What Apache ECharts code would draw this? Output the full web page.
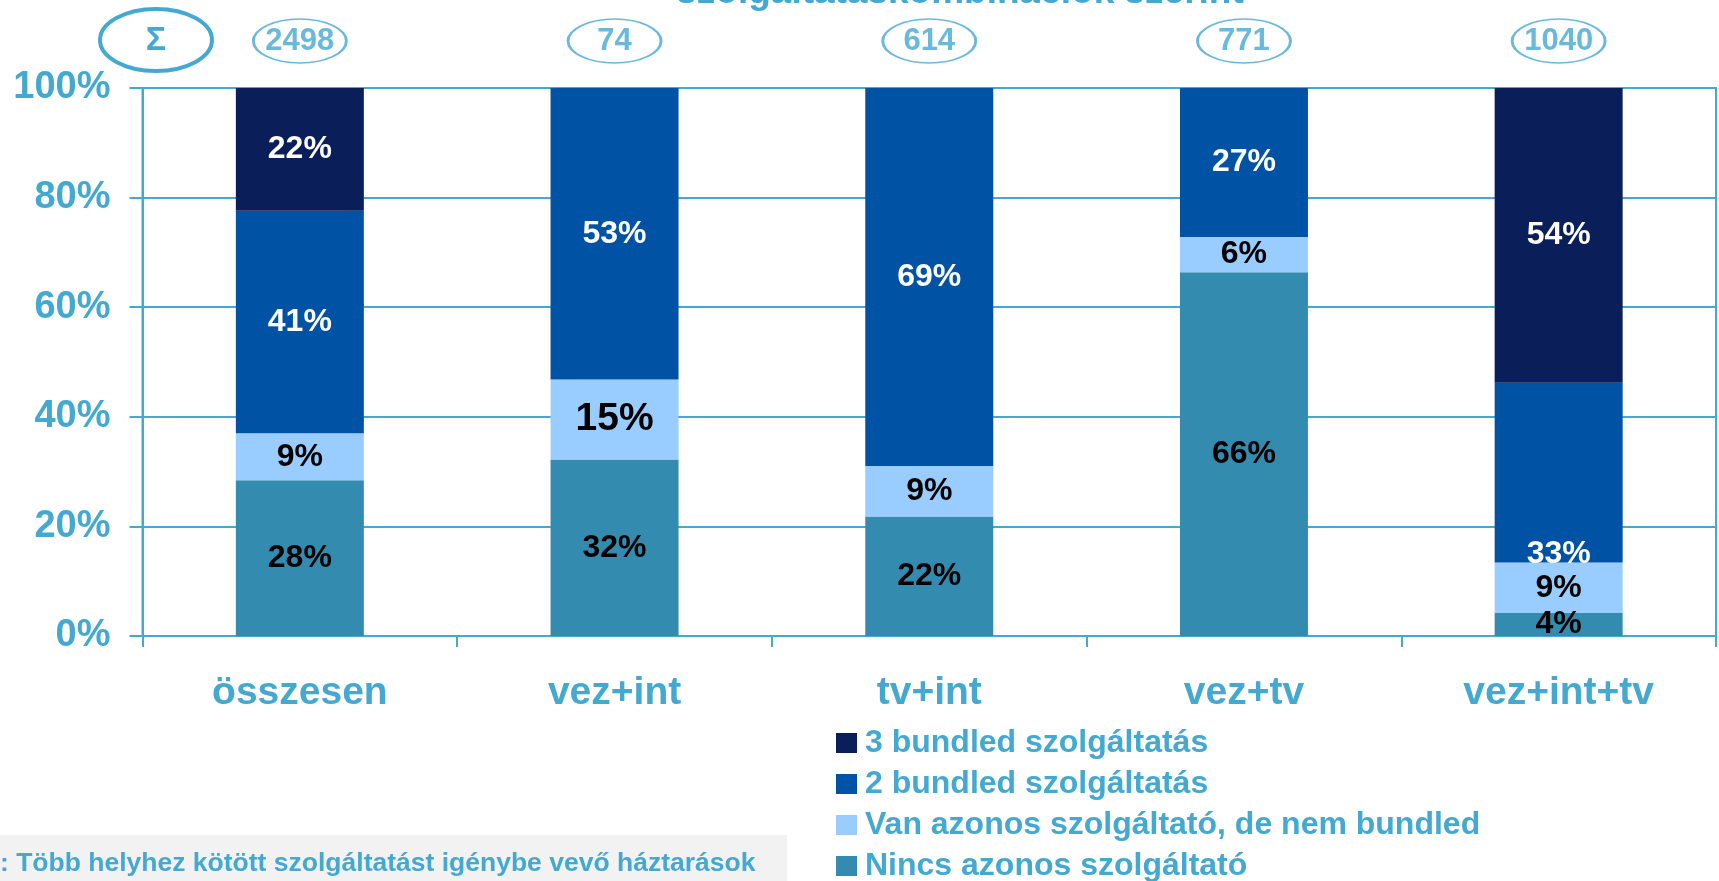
<!DOCTYPE html>
<html>
<head>
<meta charset="utf-8">
<script src="https://cdn.jsdelivr.net/npm/echarts@6/dist/echarts.min.js"></script>
<style>
  html, body { margin: 0; padding: 0; background: #fff; }
  #chart { width: 1719px; height: 881px; }
</style>
</head>
<body>
<div id="chart"></div>
<script>
// kategóriák és adatok
const categories = ["összesen", "vez+int", "tv+int", "vez+tv", "vez+int+tv"];
const totals = [2498, 74, 614, 771, 1040];
const nincs = [28.4, 32.2, 21.8, 66.4, 4.2];
const van = [8.6, 14.6, 9.2, 6.4, 9.2];
const bundled2 = [40.6, 53.2, 69.0, 27.2, 32.8];
const bundled3 = [22.4, 0, 0, 0, 53.8];
const yTicks = [0, 20, 40, 60, 80, 100];

const teal = "#43A9D1";
const font = "Liberation Sans";

let myChart = echarts.init(document.getElementById("chart"));

function pct(p) {
  return p.value > 0 ? Math.round(p.value) + "%" : "";
}

function labelCfg(color) {
  return {
    show: true,
    position: "inside",
    color: color,
    fontFamily: font,
    fontWeight: "bold",
    fontSize: 32,
    formatter: pct,
  };
}

let option = {
  animation: false,
  textStyle: { fontFamily: font },
  grid: [
    { left: 142.5, right: 3, top: 88, bottom: 245, show: true, borderColor: teal, borderWidth: 2 },
    { left: 142.5, right: 3, top: 14, height: 54 },
  ],
  legend: {
    orient: "vertical",
    left: 831,
    top: 722,
    height: 200,
    icon: "rect",
    itemWidth: 21,
    itemHeight: 20,
    itemGap: 9,
    data: ["3 bundled szolgáltatás", "2 bundled szolgáltatás", "Van azonos szolgáltató, de nem bundled", "Nincs azonos szolgáltató"],
    textStyle: { color: teal, fontSize: 32, fontWeight: "bold", fontFamily: font, lineHeight: 30, padding: [0, 0, 0, 3] },
  },
  xAxis: [
    {
      type: "category",
      data: categories,
      axisLine: { lineStyle: { color: teal, width: 2 } },
      axisTick: { show: true, length: 11, lineStyle: { color: teal, width: 2 } },
      axisLabel: { color: teal, fontSize: 39, fontWeight: "bold", fontFamily: font, margin: 38 },
    },
    { type: "category", gridIndex: 1, data: categories, show: false },
  ],
  yAxis: [
    {
      type: "value",
      min: yTicks[0],
      max: yTicks[yTicks.length - 1],
      interval: 20,
      axisLine: { show: true, lineStyle: { color: teal, width: 2 } },
      axisTick: { show: true, length: 13, lineStyle: { color: teal, width: 2 } },
      axisLabel: { color: teal, fontSize: 38, fontWeight: "bold", fontFamily: font, margin: 32, formatter: "{value}%" },
      splitLine: { lineStyle: { color: teal, width: 2 } },
    },
    { type: "value", gridIndex: 1, min: 0, max: 1, show: false },
  ],
  series: [
    {
      name: "Nincs azonos szolgáltató",
      type: "bar",
      stack: "a",
      barWidth: 128,
      itemStyle: { color: "#338CAF" },
      label: labelCfg("#000"),
      data: nincs,
    },
    {
      name: "Van azonos szolgáltató, de nem bundled",
      type: "bar",
      stack: "a",
      itemStyle: { color: "#99CCFF" },
      label: labelCfg("#000"),
      data: van.map(function (v, i) {
        // a vez+int felirat nagyobb
        return i === 1 ? { value: v, label: { fontSize: 39 } } : v;
      }),
    },
    {
      name: "2 bundled szolgáltatás",
      type: "bar",
      stack: "a",
      itemStyle: { color: "#0052A5" },
      label: labelCfg("#fff"),
      data: bundled2.map(function (v, i) {
        return i === 4 ? { value: v, label: { position: "insideBottom", distance: 0, offset: [0, 8] } } : v;
      }),
    },
    {
      name: "3 bundled szolgáltatás",
      type: "bar",
      stack: "a",
      itemStyle: { color: "#0A1E5A" },
      label: labelCfg("#fff"),
      data: bundled3,
    },
    {
      name: "totals",
      type: "scatter",
      xAxisIndex: 1,
      yAxisIndex: 1,
      symbol: "circle",
      symbolSize: [93, 44],
      itemStyle: { color: "#fff", borderColor: teal, borderWidth: 2 },
      label: {
        show: true,
        position: "inside",
        color: teal,
        fontSize: 31,
        fontWeight: "bold",
        fontFamily: font,
        formatter: function (p) { return totals[p.dataIndex]; },
      },
      data: categories.map(function (c) { return [c, 0.5]; }),
    },
  ],
  graphic: [
    {
      type: "text",
      style: { text: "szolgáltatáskombinációk szerint", x: 960, y: -7, fill: teal, font: "bold 37px " + font, align: "center", verticalAlign: "middle" },
    },
    {
      type: "ellipse",
      shape: { cx: 156, cy: 40, rx: 56, ry: 31 },
      style: { fill: "#fff", stroke: teal, lineWidth: 4 },
    },
    {
      type: "text",
      style: { text: "Σ", x: 156, y: 41, fill: teal, font: "bold 34px " + font, align: "center", verticalAlign: "middle" },
    },
    {
      type: "rect",
      shape: { x: 0, y: 835, width: 787, height: 46 },
      style: { fill: "#F2F2F2" },
    },
    {
      type: "text",
      style: { text: ": Több helyhez kötött szolgáltatást igénybe vevő háztarások", x: 0, y: 864, fill: teal, font: "bold 26.5px " + font, verticalAlign: "middle" },
    },
  ],
};

myChart.setOption(option);
window.addEventListener("resize", function () {
  myChart.resize();
});
</script>
</body>
</html>
